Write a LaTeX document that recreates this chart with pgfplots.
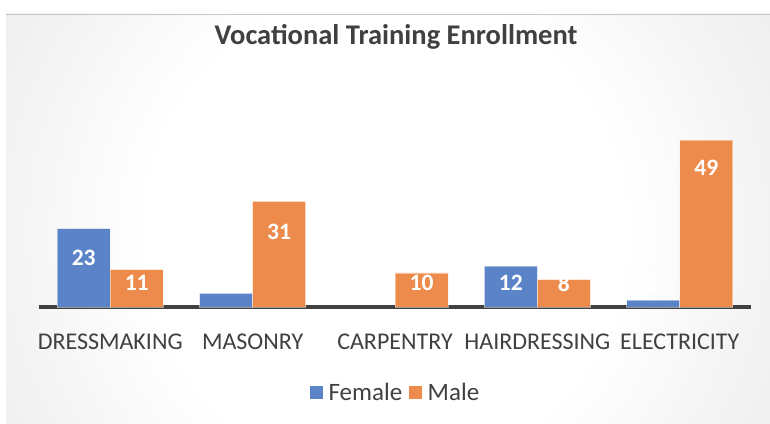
\documentclass[border=0pt]{standalone}
\usepackage{pgfplots}
\pgfplotsset{compat=1.18}
\usepackage{fontspec}
\setmainfont{Carlito}

\definecolor{fem}{RGB}{91,131,200}
\definecolor{mal}{RGB}{237,139,76}
\definecolor{txt}{RGB}{64,64,64}
\definecolor{g0}{RGB}{255,255,255}
\definecolor{g1}{RGB}{243,243,243}
\definecolor{g2}{RGB}{231,231,231}
\definecolor{g3}{RGB}{205,205,205}
\definecolor{g4}{RGB}{194,194,194}
\pgfdeclareradialshading{bgshade}{\pgfpoint{0bp}{0bp}}{%
  color(0bp)=(g0); color(13bp)=(g0); color(21bp)=(g1); color(30bp)=(g2);
  color(41bp)=(g3); color(50bp)=(g4)}

\pgfplotsset{sqleg/.style={legend image code/.code={%
  \fill[##1,draw=none,fill opacity=1] (0pt,-6.5pt) rectangle (13pt,6.5pt);
  \path (16pt,0pt);}}}

\begin{document}
\begin{tikzpicture}
\useasboundingbox (0,0) rectangle (770pt,423pt);
% chart area background
\begin{scope}
  \clip (6pt,0) rectangle (770pt,409pt);
  \shade[shading=bgshade] (385pt,190pt) circle (460pt);
\end{scope}
\draw[gray!45, line width=0.8pt] (6pt,409pt) -- (770pt,409pt);

\node[text=txt, font=\fontsize{28.5}{33}\selectfont\bfseries] at (396pt,386pt)
  {Vocational Training Enrollment};

\begin{axis}[
    at={(39pt,116pt)}, anchor=south west,
    scale only axis,
    width=712pt, height=187.4pt,
    xmin=-0.5, xmax=4.5,
    ymin=0, ymax=55,
    axis x line=bottom,
    axis y line=none,
    x axis line style={-, line width=3.3pt, draw=txt},
    xtick={0,1,2,3,4},
    xticklabels={DRESSMAKING,MASONRY,CARPENTRY,HAIRDRESSING,ELECTRICITY},
    xtick style={draw=none},
    xticklabel style={anchor=base, yshift=-40pt, text=txt,
      font=\fontsize{24}{28}\selectfont},
    ytick=\empty,
    clip=false,
    legend columns=2,
    legend style={
        at={(0.501,-0.454)}, anchor=center,
        draw=none, fill=white, fill opacity=0.45, text opacity=1,
        font=\fontsize{25}{29}\selectfont, text=txt,
        inner xsep=10pt, inner ysep=4pt,
        /tikz/every even column/.append style={column sep=5pt},
    },
]
% Female
\addplot[ybar, bar width=53pt, bar shift=-26.5pt, fill=fem,
    draw=white, draw opacity=0.45, line width=0.8pt, sqleg]
    coordinates {(0,23) (1,4) (3,12) (4,2)};
\addlegendentry{Female}
% Male
\addplot[ybar, bar width=53pt, bar shift=26.5pt, fill=mal,
    draw=white, draw opacity=0.45, line width=0.8pt, sqleg]
    coordinates {(0,11) (1,31) (2,10) (3,8) (4,49)};
\addlegendentry{Male}
% data labels
\addplot[draw=none, mark=none, forget plot, nodes near coords,
    point meta=explicit symbolic,
    every node near coord/.append style={anchor=center, xshift=-26.5pt,
      text=white, font=\fontsize{23.5}{27}\selectfont\bfseries}]
    coordinates {(0,14.4)[23] (1,7.04)[4] (3,7.04)[12] (4,7.04)[2]};
\addplot[draw=none, mark=none, forget plot, nodes near coords,
    point meta=explicit symbolic,
    every node near coord/.append style={anchor=center, xshift=26.5pt,
      text=white, font=\fontsize{23.5}{27}\selectfont\bfseries}]
    coordinates {(0,7.04)[11] (1,22.0)[31] (2,7.04)[10] (3,7.04)[8] (4,40.8)[49]};
\end{axis}
\end{tikzpicture}
\end{document}
